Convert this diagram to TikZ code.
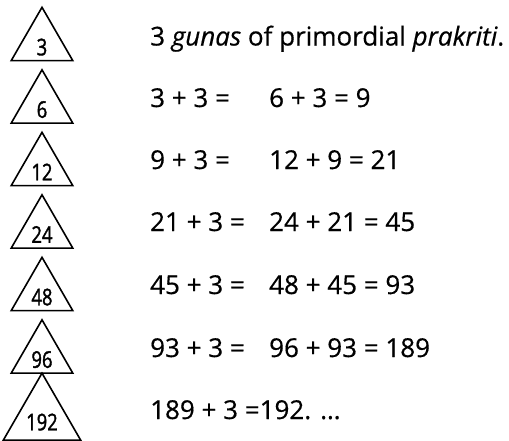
\documentclass[tikz,border=0pt]{standalone}
\usepackage{fontspec}
\setmainfont{Open Sans}[FakeBold=0.5]
\newfontfamily\trinum[FakeStretch=0.8,FakeBold=1.5]{Open Sans}
\usetikzlibrary{positioning,shapes.geometric}
\tikzset{
  tri/.style={regular polygon,regular polygon sides=3,draw,line width=1.6pt,
    minimum size=71pt,inner sep=0pt,outer sep=0pt,
    font=\trinum\fontsize{23}{23}\selectfont,text height=25pt,text depth=0pt},
  sum/.style={anchor=base west,inner sep=0pt,font=\fontsize{26}{28}\selectfont}
}

\begin{document}
\begin{tikzpicture}[x=1pt,y=-1pt]
\useasboundingbox (0,0) rectangle (509,440);

% =========================================================
% Triangles
% =========================================================

\node[tri] (t1) at (42,42.8) {3};
\node[tri] (t2) at (42,105.3) {6};
\node[tri] (t3) at (42,167.8) {12};
\node[tri] (t4) at (42,230.3) {24};
\node[tri] (t5) at (42,292.8) {48};
\node[tri] (t6) at (42,355.3) {96};
\node[tri] (t7) at (42,417.8) {192};

% =========================================================
% Sums
% =========================================================

\node[sum] (s1) at (150,45.5) {3 \textit{gunas} of primordial \textit{prakriti}.};

\node[sum] (s2) at (150,107) {3 + 3 =};
\node[sum] (s2b) at (269,107) {6 + 3 = 9};

\node[sum] (s3) at (150,169) {9 + 3 =};
\node[sum] (s3b) at (269,169) {12 + 9 = 21};

\node[sum] (s4) at (150,231) {21 + 3 =};
\node[sum] (s4b) at (269,231) {24 + 21 = 45};

\node[sum] (s5) at (150,294) {45 + 3 =};
\node[sum] (s5b) at (269,294) {48 + 45 = 93};

\node[sum] (s6) at (150,357) {93 + 3 =};
\node[sum] (s6b) at (269,357) {96 + 93 = 189};

\node[sum] (s7) at (150,419) {189 + 3 =192. \ldots};

\end{tikzpicture}
\end{document}
